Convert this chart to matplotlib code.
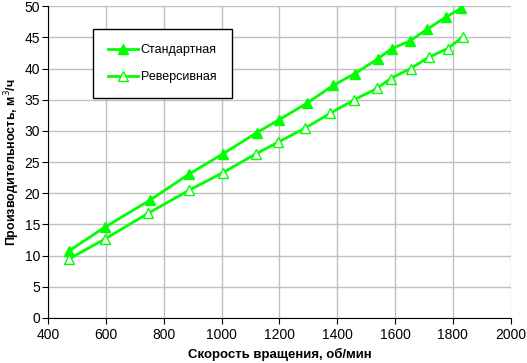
import matplotlib
matplotlib.use("Agg")
from matplotlib import pyplot as plt

plt.rcParams['font.family'] = ['Liberation Sans', 'DejaVu Sans']

# standard (filled triangles)
std_rpm = [473, 597, 752, 888, 1004, 1121, 1199, 1294, 1386, 1462, 1542, 1589, 1651, 1711, 1778, 1830]
std_flow = [10.8, 14.6, 18.9, 23.1, 26.3, 29.7, 31.8, 34.4, 37.3, 39.2, 41.6, 43.2, 44.4, 46.3, 48.3, 49.7]

# reversible (hollow triangles)
rev_rpm = [473, 597, 746, 888, 1004, 1118, 1196, 1287, 1375, 1459, 1537, 1585, 1654, 1717, 1782, 1836]
rev_flow = [9.5, 12.7, 16.8, 20.5, 23.3, 26.3, 28.2, 30.4, 32.8, 35.0, 36.8, 38.4, 40.0, 41.8, 43.2, 45.1]

green = "#00ff00"

fig = plt.figure(figsize=(5.27, 3.63), dpi=100)
ax = fig.add_axes([0.0917, 0.124, 0.877, 0.859])

ax.plot(std_rpm, std_flow, color=green, lw=2, marker='^', ms=7.5,
        mfc=green, mec=green, label="Стандартная")
ax.plot(rev_rpm, rev_flow, color=green, lw=2, marker='^', ms=7.5,
        mfc='white', mec=green, label="Реверсивная")

ax.set_xlim(400, 2000)
ax.set_ylim(0, 50)
ax.set_xticks(range(400, 2001, 200))
ax.set_yticks(range(0, 51, 5))
ax.grid(True, color="#c0c0c0", lw=1)
ax.set_axisbelow(True)
for s in ['top', 'right']:
    ax.spines[s].set_visible(False)
ax.tick_params(labelsize=10, length=4, direction='out')
ax.tick_params(axis='y', pad=2)

ax.set_xlabel("Скорость вращения, об/мин", fontsize=9.5, fontweight='bold')
ax.set_ylabel("Производительность, м$^3$/ч", fontsize=9, fontweight='bold', labelpad=2)

leg = ax.legend(loc='upper left', bbox_to_anchor=(0.097, 0.926), borderaxespad=0,
                fontsize=9, fancybox=False, framealpha=1, edgecolor='black',
                borderpad=1.2, labelspacing=1.2, handlelength=2.4, handletextpad=0.2)
leg.get_frame().set_linewidth(1)

fig.savefig("out.png", dpi=100)
